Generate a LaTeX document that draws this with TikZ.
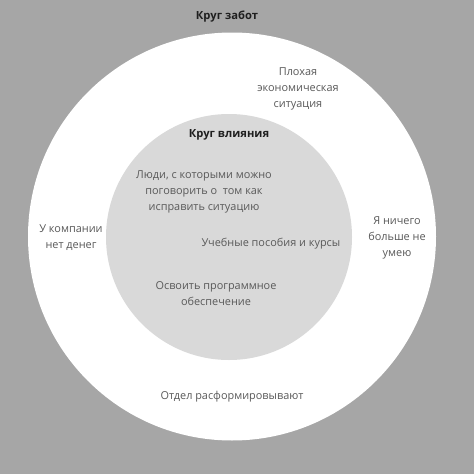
\documentclass[tikz,border=0pt]{standalone}
\usepackage{fontspec}
\setmainfont{Open Sans}
\definecolor{bg}{HTML}{A6A6A6}
\definecolor{inner}{HTML}{D9D9D9}
\definecolor{txt}{HTML}{595959}
\definecolor{ttl}{HTML}{1F1F1F}
\begin{document}
\begin{tikzpicture}[x=1pt,y=-1pt,
  lbl/.style={align=center,text=txt,inner sep=0pt,font=\fontsize{10.9}{16}\selectfont},
  ttlstyle/.style={align=center,text=ttl,inner sep=0pt,font=\bfseries\fontsize{11.2}{16}\selectfont}]
\fill[bg] (0,0) rectangle (474,474);
\useasboundingbox (0,0) rectangle (474,474);
\node[circle,fill=white,minimum size=408pt,inner sep=0pt] (outer) at (232,236.5) {};
\node[circle,fill=inner,minimum size=246pt,inner sep=0pt] (innerc) at (229,237) {};
\node[ttlstyle] (t1) at (227,17) {Круг забот};
\node[ttlstyle] (t2) at (229,135) {Круг влияния};
\node[lbl] (a) at (298,89) {Плохая\\экономическая\\ситуация};
\node[lbl] (b) at (204,192) {Люди, с которыми можно\\поговорить о\ \ том как\\исправить ситуацию};
\node[lbl] (c) at (71,237.5) {У компании\\нет денег};
\node[lbl] (d) at (397,238) {Я ничего\\больше не\\умею};
\node[lbl] (e) at (271,244) {Учебные пособия и курсы};
\node[lbl] (f) at (216,294) {Освоить программное\\обеспечение};
\node[lbl] (g) at (232,397) {Отдел расформировывают};
\end{tikzpicture}
\end{document}
